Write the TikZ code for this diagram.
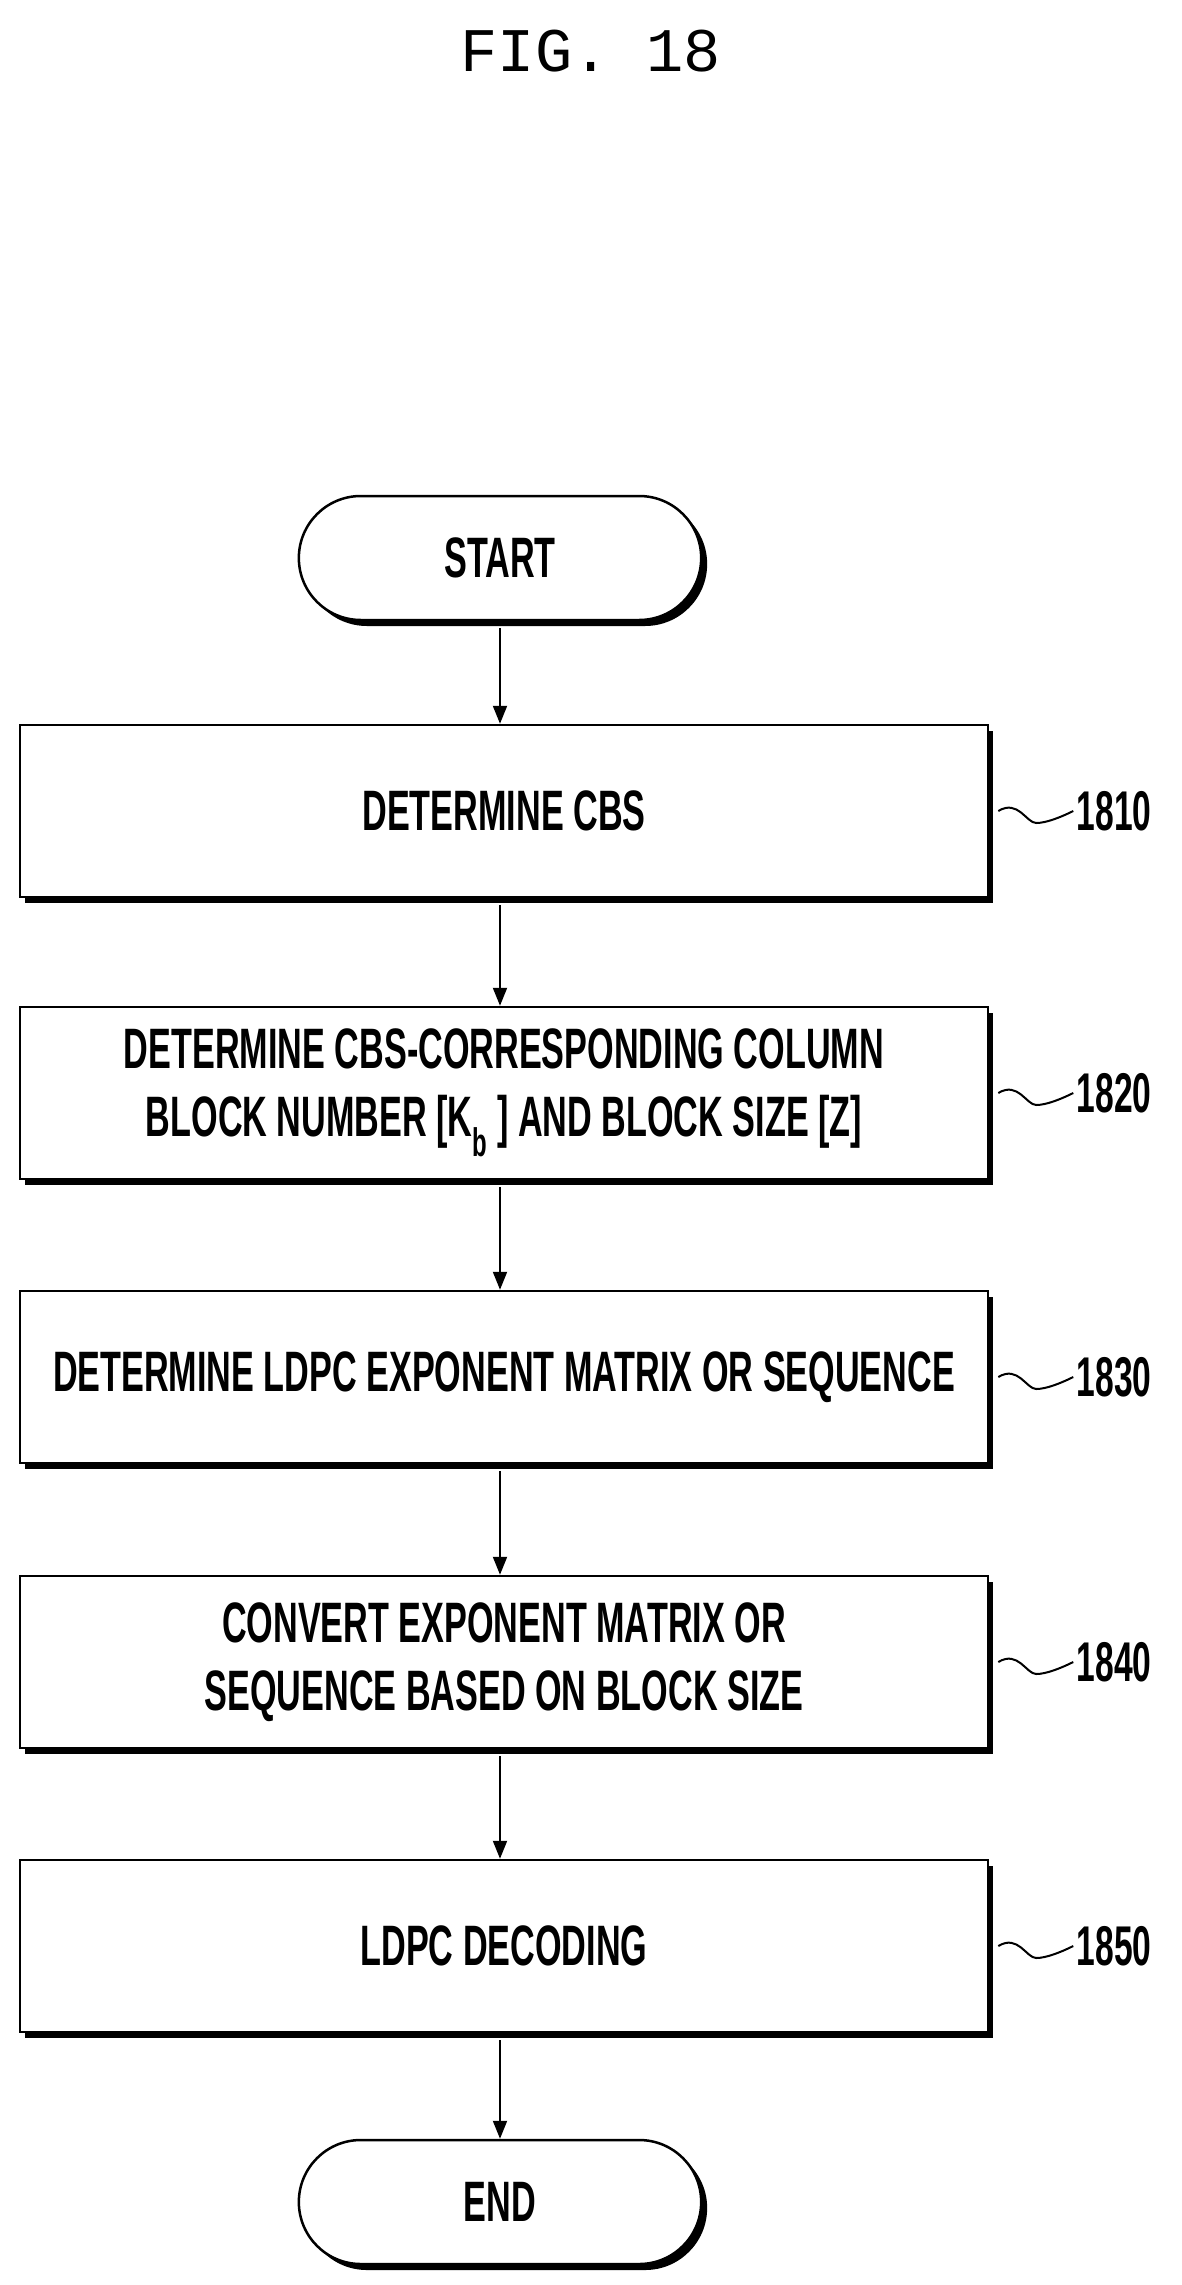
\documentclass[tikz,border=0pt]{standalone}
\usepackage{fontspec}
\newfontfamily\cond[FakeStretch=0.6]{Liberation Sans}
\newfontfamily\mono{Liberation Mono}
\usetikzlibrary{arrows.meta,shapes.misc,shadows}
\begin{document}
\begin{tikzpicture}[x=1pt,y=-1pt,
  box/.style={draw,line width=2.5pt,minimum width=968pt,minimum height=172pt,align=center,fill=white,
    font=\cond\bfseries\fontsize{57}{68}\selectfont,
    drop shadow={shadow xshift=5pt,shadow yshift=-6pt,fill=black,opacity=1}},
  term/.style={draw,line width=2.5pt,rounded rectangle,minimum width=409pt,minimum height=124pt,
    font=\cond\bfseries\fontsize{57}{68}\selectfont,fill=white,
    drop shadow={shadow xshift=6pt,shadow yshift=-6pt,fill=black,opacity=1}},
  lab/.style={font=\cond\bfseries\fontsize{56}{60}\selectfont,anchor=west},
  arr/.style={line width=2pt,-{Triangle[length=18pt,width=14pt]}},
  sq/.style={line width=2pt}]
\useasboundingbox (0,0) rectangle (1182,2285);
\node[font=\mono\fontsize{62}{70}\selectfont] (title) at (591,51) {FIG. 18};
\node[term] (start) at (500,558) {START};
\node[box] (b1) at (504,811) {DETERMINE CBS};
\node[box] (b2) at (504,1093) {DETERMINE CBS-CORRESPONDING COLUMN\\BLOCK NUMBER [K\textsubscript{b} ] AND BLOCK SIZE [Z]};
\node[box] (b3) at (504,1377) {DETERMINE LDPC EXPONENT MATRIX OR SEQUENCE};
\node[box] (b4) at (504,1662) {CONVERT EXPONENT MATRIX OR\\SEQUENCE BASED ON BLOCK SIZE};
\node[box] (b5) at (504,1946) {LDPC DECODING};
\node[term] (end) at (500,2202) {END};
\foreach \a/\b in {start/b1,b1/b2,b2/b3,b3/b4,b4/b5,b5/end}
  \draw[arr] ([yshift=-7pt]\a.south -| start) -- (\b.north -| start);
\foreach \b/\n in {b1/1810,b2/1820,b3/1830,b4/1840,b5/1850}{
  \coordinate (c\n) at ([xshift=9pt]\b.east);
  \node[lab] (l\n) at ([xshift=84pt]\b.east) {\n};
  \draw[sq] (c\n) .. controls +(20,-12) and +(-10,0) .. ++(38,12) .. controls +(10,0) and +(-12,6) .. (l\n.west);
}
\end{tikzpicture}
\end{document}
